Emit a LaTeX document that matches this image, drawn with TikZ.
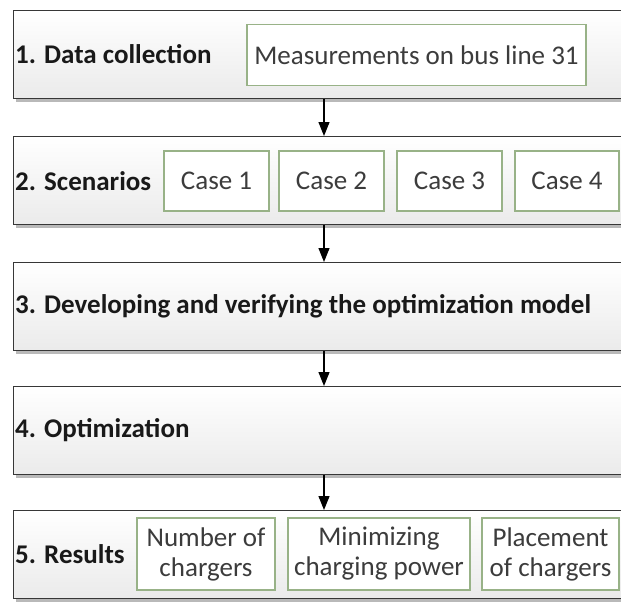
\documentclass[tikz,border=0pt]{standalone}
\usepackage{fontspec}
\setmainfont{Carlito}
\usetikzlibrary{arrows.meta,shadows}
\definecolor{stageline}{RGB}{55,55,55}
\definecolor{itemline}{RGB}{152,178,135}
\definecolor{itemtext}{RGB}{60,60,60}
\tikzset{
  stagebox/.style={draw=stageline, line width=1.3pt, top color=white, bottom color=black!8,
    minimum width=640pt, minimum height=88pt, inner sep=0pt, anchor=north west,
    drop shadow={shadow xshift=2pt, shadow yshift=-3pt, fill=black!50, opacity=.55}},
  stagelabel/.style={anchor=west, inner sep=0pt, font=\fontsize{27}{31}\selectfont\bfseries, text=black!90},
  itembox/.style={draw=itemline, line width=1.1pt, fill=white, inner sep=0pt, align=center,
    font=\fontsize{27}{30}\selectfont, text=itemtext},
  flow/.style={draw=black, line width=1.2pt, -{Triangle[length=14pt,width=11pt]}}
}
\begin{document}
\begin{tikzpicture}[x=1pt, y=-1pt]
  \useasboundingbox (0,0) rectangle (621,603);
  \fill[white] (0,0) rectangle (621,603);
  \clip (0,0) rectangle (621,603);

  % stage frames, running past the right edge
  \node[stagebox] (s1) at (13,10)  {};
  \node[stagebox] (s2) at (13,136) {};
  \node[stagebox] (s3) at (13,262) {};
  \node[stagebox] (s4) at (13,386) {};
  \node[stagebox] (s5) at (13,510) {};

  % stage titles
  \node[stagelabel] (l1) at (15,54)  {1. Data collection};
  \node[stagelabel] (l2) at (15,181) {2. Scenarios};
  \node[stagelabel] (l3) at (15,306) {3. Developing and verifying the optimization model};
  \node[stagelabel] (l4) at (15,430) {4. Optimization};
  \node[stagelabel] (l5) at (15,554) {5. Results};

  % stage 1 content
  \node[itembox, minimum width=339pt, minimum height=61pt] (m1) at (416.5,55) {Measurements on bus line 31};

  % stage 2 content
  \node[itembox, minimum width=105pt, minimum height=60pt] (c1) at (216.5,181) {Case 1};
  \node[itembox, minimum width=105pt, minimum height=60pt] (c2) at (331.5,181) {Case 2};
  \node[itembox, minimum width=105pt, minimum height=60pt] (c3) at (449.5,181) {Case 3};
  \node[itembox, minimum width=104pt, minimum height=60pt] (c4) at (567,181)   {Case 4};

  % stage 5 content
  \node[itembox, minimum width=138pt, minimum height=72pt] (r1) at (206,554)   {Number of\\chargers};
  \node[itembox, minimum width=182pt, minimum height=72pt] (r2) at (379,554)   {Minimizing\\charging power};
  \node[itembox, minimum width=137pt, minimum height=72pt] (r3) at (550.5,554) {Placement\\of chargers};

  % connectors between stages
  \coordinate (ax) at (324,0);
  \draw[flow] (s1.south -| ax) -- (s2.north -| ax);
  \draw[flow] (s2.south -| ax) -- (s3.north -| ax);
  \draw[flow] (s3.south -| ax) -- (s4.north -| ax);
  \draw[flow] (s4.south -| ax) -- (s5.north -| ax);
\end{tikzpicture}
\end{document}
